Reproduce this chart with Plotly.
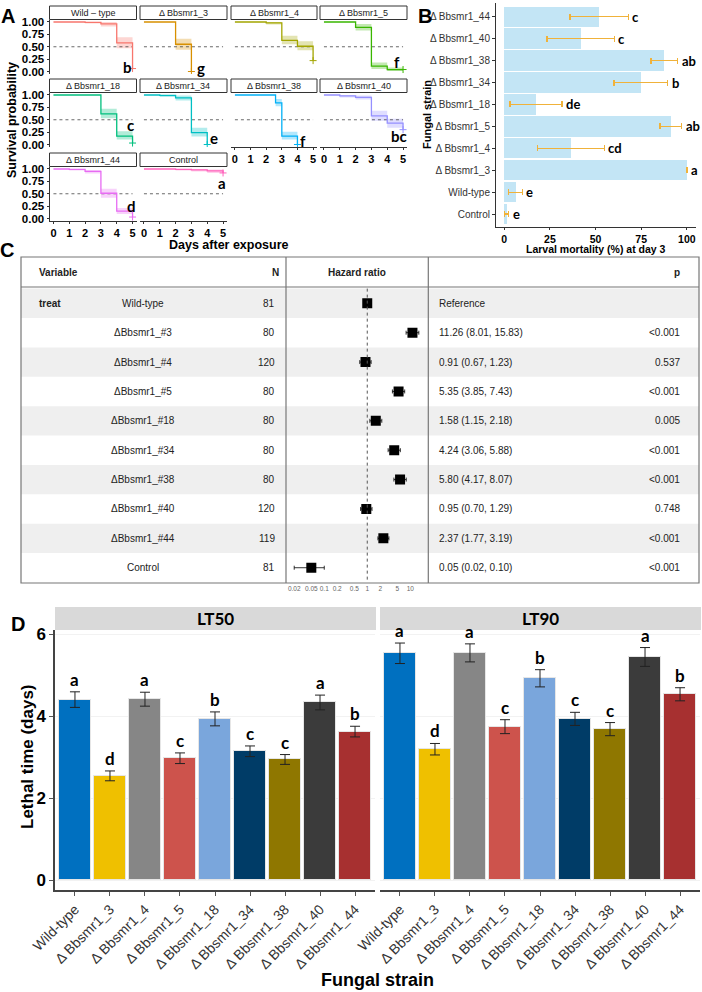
import plotly.graph_objects as go

W, H = 702, 992
SANS = "Liberation Sans, Arial, sans-serif"
CALI = "Lato, Carlito, sans-serif"

# ---- Panel A: Kaplan-Meier survival per strain (step days, survival, CI band)
km_names = ["Wild – type", "Δ Bbsmr1_3", "Δ Bbsmr1_4", "Δ Bbsmr1_5", "Δ Bbsmr1_18",
            "Δ Bbsmr1_34", "Δ Bbsmr1_38", "Δ Bbsmr1_40", "Δ Bbsmr1_44", "Control"]
km_colors = ["#F8766D", "#D89000", "#A3A500", "#39B600", "#00BF7D",
             "#00BFC4", "#00B0F6", "#9590FF", "#E76BF3", "#FF62BC"]
km_days = [
    [0, 2, 3, 4, 5],
    [0, 2, 3],
    [0, 2, 3, 4, 5],
    [0, 2, 3, 4, 5],
    [0, 3, 4, 5],
    [0, 1, 2, 3, 4],
    [0, 2.6, 3, 4],
    [0, 1, 2, 3, 4, 5],
    [0, 1, 2, 3, 4, 5],
    [0, 2, 3, 4, 5],
]
km_surv = [
    [1, 0.99, 0.96, 0.58, 0.06],
    [1, 0.55, 0.0],
    [1, 0.98, 0.63, 0.51, 0.22],
    [1, 0.89, 0.11, 0.04, 0.04],
    [1, 0.62, 0.17, 0.03],
    [1, 0.99, 0.94, 0.24, 0.0],
    [1, 0.84, 0.17, 0.0],
    [1, 0.98, 0.95, 0.58, 0.43, 0.30],
    [1, 0.99, 0.95, 0.51, 0.15, 0.03],
    [1, 0.99, 0.98, 0.96, 0.92],
]
km_lo = [
    [1, 0.97, 0.91, 0.47, 0.02],
    [1, 0.44, 0.0],
    [1, 0.95, 0.55, 0.43, 0.14],
    [1, 0.83, 0.05, 0.01, 0.01],
    [1, 0.53, 0.10, 0.01],
    [1, 0.96, 0.89, 0.16, 0.0],
    [1, 0.77, 0.10, 0.0],
    [1, 0.95, 0.91, 0.48, 0.34, 0.22],
    [1, 0.97, 0.91, 0.42, 0.09, 0.01],
    [1, 0.97, 0.95, 0.92, 0.86],
]
km_hi = [
    [1, 1, 1, 0.69, 0.12],
    [1, 0.66, 0.0],
    [1, 1, 0.72, 0.61, 0.30],
    [1, 0.96, 0.18, 0.08, 0.08],
    [1, 0.72, 0.27, 0.07],
    [1, 1, 0.99, 0.34, 0.0],
    [1, 0.92, 0.26, 0.0],
    [1, 1, 0.99, 0.68, 0.52, 0.39],
    [1, 1, 0.98, 0.60, 0.21, 0.06],
    [1, 1, 1, 0.99, 0.97],
]
km_letters = ["b", "g", "b", "f", "c", "e", "f", "bc", "d", "a"]
km_letter_x = [4.7, 3.6, 5.3, 4.6, 4.9, 4.45, 4.35, 4.75, 4.95, 4.95]
km_letter_y = [0.10, 0.07, 0.18, 0.20, 0.39, 0.14, 0.07, 0.18, 0.25, 0.72]
km_day_ticks = [0, 1, 2, 3, 4, 5]
km_surv_ticks = [0, 0.25, 0.5, 0.75, 1.0]

# ---- Panel B: larval mortality at day 3 (bottom to top)
b_names = ["Control", "Wild-type", "Δ Bbsmr1_3", "Δ Bbsmr1_4", "Δ Bbsmr1_5",
           "Δ Bbsmr1_18", "Δ Bbsmr1_34", "Δ Bbsmr1_38", "Δ Bbsmr1_40", "Δ Bbsmr1_44"]
b_mort = [1.3, 6.2, 100, 36.5, 91.2, 17.4, 74.8, 87.6, 41.8, 52.0]
b_err = [1.1, 3.8, 0, 18.3, 5.9, 14.1, 14.6, 7.3, 18.5, 16.0]
b_letters = ["e", "e", "a", "cd", "ab", "de", "b", "ab", "c", "c"]
b_ticks = [0, 25, 50, 75, 100]

# ---- Panel C: Cox hazard ratios
hr_names = ["Wild-type", "ΔBbsmr1_#3", "ΔBbsmr1_#4", "ΔBbsmr1_#5", "ΔBbsmr1_#18",
            "ΔBbsmr1_#34", "ΔBbsmr1_#38", "ΔBbsmr1_#40", "ΔBbsmr1_#44", "Control"]
hr_n = [81, 80, 120, 80, 80, 80, 80, 120, 119, 81]
hr = [1.0, 11.26, 0.91, 5.35, 1.58, 4.24, 5.80, 0.95, 2.37, 0.05]
hr_lo = [1.0, 8.01, 0.67, 3.85, 1.15, 3.06, 4.17, 0.70, 1.77, 0.02]
hr_hi = [1.0, 15.83, 1.23, 7.43, 2.18, 5.88, 8.07, 1.29, 3.19, 0.10]
hr_p = ["", "<0.001", "0.537", "<0.001", "0.005", "<0.001", "<0.001", "0.748", "<0.001", "<0.001"]
hr_ticks = [0.02, 0.05, 0.1, 0.2, 0.5, 1, 2, 5, 10]

# ---- Panel D: lethal times
d_names = ["Wild-type", "Δ Bbsmr1_3", "Δ Bbsmr1_4", "Δ Bbsmr1_5", "Δ Bbsmr1_18",
           "Δ Bbsmr1_34", "Δ Bbsmr1_38", "Δ Bbsmr1_40", "Δ Bbsmr1_44"]
d_colors = ["#0070C0", "#EFC000", "#868686", "#CD534C", "#7AA6DC",
            "#003C67", "#8F7700", "#3B3B3B", "#A73030"]
lt50 = [4.40, 2.54, 4.41, 2.97, 3.93, 3.14, 2.94, 4.33, 3.62]
lt50_err = [0.19, 0.12, 0.17, 0.13, 0.17, 0.13, 0.12, 0.18, 0.13]
lt50_letters = ["a", "d", "a", "c", "b", "c", "c", "a", "b"]
lt90 = [5.53, 3.19, 5.54, 3.74, 4.92, 3.93, 3.68, 5.44, 4.53]
lt90_err = [0.25, 0.14, 0.22, 0.17, 0.21, 0.16, 0.16, 0.23, 0.16]
lt90_letters = ["a", "d", "a", "c", "b", "c", "c", "a", "b"]
d_ticks = [0, 2, 4, 6]


def px_x(v):
    return v / W


def px_y(v):
    return 1 - v / H


def axn(n):
    return "" if n == 1 else str(n)


def rgba(hex_color, alpha):
    h = hex_color.lstrip("#")
    r, g, b = (int(h[k:k + 2], 16) for k in (0, 2, 4))
    return f"rgba({r},{g},{b},{alpha})"


fig = go.Figure()
layout = {}
shapes = []
annotations = []


def label(x, y, s, size=10, bold=False, color="#000", family=SANS, xanchor="center",
          yanchor="middle", angle=0, xref="paper", yref="paper", **kw):
    if bold:
        s = f"<b>{s}</b>"
    annotations.append(dict(x=x, y=y, xref=xref, yref=yref, text=s, showarrow=False,
                            font=dict(family=family, size=size, color=color),
                            xanchor=xanchor, yanchor=yanchor, textangle=angle, **kw))


def page_label(x, y, s, **kw):
    label(px_x(x), px_y(y), s, **kw)


def line_px(x0, y0, x1, y1, color="#777", width=1.2, dash="solid"):
    shapes.append(dict(type="line", xref="paper", yref="paper", x0=px_x(x0), x1=px_x(x1),
                       y0=px_y(y0), y1=px_y(y1), line=dict(color=color, width=width, dash=dash)))


# ================= Panel A =================
a_cols = [(49.5, 136.5), (140, 227), (231, 317), (320, 407)]
a_rows = [(19.5, 74), (92.5, 147), (166.5, 221)]
a_strips = [(6, 19.5), (79, 92.5), (153, 166.5)]

for i, name in enumerate(km_names):
    n = i + 1
    r, c = divmod(i, 4)
    xa, ya = "x" + axn(n), "y" + axn(n)
    col = km_colors[i]
    fig.add_trace(go.Scatter(x=km_days[i], y=km_lo[i], xaxis=xa, yaxis=ya, mode="lines",
                             line=dict(width=0, shape="hv"), hoverinfo="skip"))
    fig.add_trace(go.Scatter(x=km_days[i], y=km_hi[i], xaxis=xa, yaxis=ya, mode="lines",
                             line=dict(width=0, shape="hv"), fill="tonexty",
                             fillcolor=rgba(col, 0.3), hoverinfo="skip"))
    fig.add_trace(go.Scatter(x=[0, 5], y=[0.5, 0.5], xaxis=xa, yaxis=ya, mode="lines",
                             line=dict(color="#444", width=0.8, dash="dot")))
    fig.add_trace(go.Scatter(x=km_days[i], y=km_surv[i], xaxis=xa, yaxis=ya, mode="lines",
                             line=dict(color=col, width=1.3, shape="hv")))
    fig.add_trace(go.Scatter(x=[km_days[i][-1]], y=[km_surv[i][-1]], xaxis=xa, yaxis=ya,
                             mode="markers",
                             marker=dict(symbol="cross-thin", size=5, line=dict(color=col, width=1))))

    bottom = i in (6, 7, 8, 9)
    left = c == 0
    x0, x1 = a_cols[c]
    y0, y1 = a_rows[r]
    layout["xaxis" + axn(n)] = dict(
        domain=[px_x(x0), px_x(x1)], anchor=ya, range=[-0.25, 5.25], tickvals=km_day_ticks,
        showticklabels=bottom, ticks="outside" if bottom else "", ticklen=2, tickcolor="#333",
        showline=bottom, linecolor="#333", linewidth=1, showgrid=False, zeroline=False,
        tickfont=dict(family=SANS, size=11, color="#000", weight="bold"))
    layout["yaxis" + axn(n)] = dict(
        domain=[px_y(y1), px_y(y0)], anchor=xa, range=[-0.05, 1.05], tickvals=km_surv_ticks,
        tickformat=".2f", showticklabels=left, ticks="outside" if left else "", ticklen=2,
        tickcolor="#333", showline=left, linecolor="#333", linewidth=1, showgrid=False,
        zeroline=False, tickfont=dict(family=SANS, size=11.5, color="#000", weight="bold"))

    s0, s1 = a_strips[r]
    shapes.append(dict(type="rect", xref="paper", yref="paper", x0=px_x(x0), x1=px_x(x1),
                       y0=px_y(s1), y1=px_y(s0), line=dict(color="#333", width=1),
                       fillcolor="white"))
    page_label((x0 + x1) / 2, (s0 + s1) / 2, name, size=9, color="#222")
    label(km_letter_x[i], km_letter_y[i], km_letters[i], size=15, bold=True, family=CALI,
          xref=xa, yref=ya)

page_label(8, 16, "A", size=20, bold=True)
page_label(229, 245, "Days after exposure", size=12.5, bold=True)
page_label(12, 120, "Survival probability", size=12.5, bold=True, angle=-90)

# ================= Panel B =================
fig.add_trace(go.Bar(
    x=b_mort, y=list(range(len(b_names))), orientation="h", width=0.92, xaxis="x11",
    yaxis="y11", marker=dict(color="#C3E5F5", line=dict(width=0)),
    error_x=dict(type="data", array=b_err, color="#F0B23A", thickness=1.6, width=3)))
for i, let in enumerate(b_letters):
    label(b_mort[i] + b_err[i], i, let, size=13, bold=True, family=CALI, xanchor="left",
          xshift=2, xref="x11", yref="y11")

layout["xaxis11"] = dict(domain=[px_x(496), px_x(696)], anchor="y11", range=[-4.5, 105],
                         tickvals=b_ticks, ticks="outside", ticklen=2, tickcolor="#333",
                         showline=True, linecolor="#333", linewidth=1, showgrid=False,
                         zeroline=False,
                         tickfont=dict(family=SANS, size=10.5, color="#000", weight="bold"))
layout["yaxis11"] = dict(domain=[px_y(227), px_y(3)], anchor="x11", range=[-0.58, 9.62],
                         tickvals=list(range(len(b_names))), ticktext=b_names, ticks="outside",
                         ticklen=3, tickcolor="#333", showline=True, linecolor="#333",
                         linewidth=1, showgrid=False, zeroline=False,
                         tickfont=dict(family=SANS, size=10, color="#333"))
page_label(425, 16, "B", size=20, bold=True)
page_label(596, 249, "Larval mortality (%) at day 3", size=10.5, bold=True)
page_label(427, 115, "Fungal strain", size=11, bold=True, angle=-90)

# ================= Panel C =================
rows = list(range(len(hr_names)))
for i in rows:
    if i % 2 == 0:
        shapes.append(dict(type="rect", xref="paper", yref="y12", x0=px_x(21), x1=px_x(699),
                           y0=i - 0.5, y1=i + 0.5, line=dict(width=0), fillcolor="#EFEFEF",
                           layer="below"))
shapes.append(dict(type="line", xref="x12", yref="y12", x0=1, x1=1, y0=-0.5, y1=9.5,
                   line=dict(color="#555", width=1, dash="dot")))
fig.add_trace(go.Scatter(
    x=hr, y=rows, xaxis="x12", yaxis="y12", mode="markers",
    marker=dict(symbol="square", size=10, color="black"),
    error_x=dict(type="data", symmetric=False,
                 array=[h - v for v, h in zip(hr, hr_hi)],
                 arrayminus=[v - lo for v, lo in zip(hr, hr_lo)],
                 color="black", thickness=0.8, width=2)))
layout["xaxis12"] = dict(domain=[px_x(286), px_x(428.3)], anchor="y12", type="log",
                         range=[-1.89, 1.42], tickvals=hr_ticks, tickangle=0,
                         ticktext=[str(t) for t in hr_ticks], ticks="", showline=False,
                         showgrid=False, zeroline=False,
                         tickfont=dict(family=SANS, size=6.5, color="#666"))
layout["yaxis12"] = dict(domain=[px_y(583), px_y(287)], anchor="x12", range=[9.52, -0.555],
                         showticklabels=False, showline=False, showgrid=False, zeroline=False)

for i in rows:
    label(px_x(143), i, hr_names[i], size=10, color="#222", xref="paper", yref="y12")
    label(px_x(277.3), i, str(hr_n[i]), size=10, color="#222", xanchor="right",
          xref="paper", yref="y12")
    stat = "Reference" if i == 0 else f"{hr[i]:.2f} ({hr_lo[i]:.2f}, {hr_hi[i]:.2f})"
    label(px_x(436.7), i, stat, size=10, color="#222", xanchor="left", xref="paper", yref="y12")
    label(px_x(681.7), i, hr_p[i], size=10, color="#222", xanchor="right", xref="paper",
          yref="y12")
label(px_x(36.7), 0, "treat", size=10, bold=True, color="#222", xanchor="left",
      xref="paper", yref="y12")

page_label(36.7, 273, "Variable", size=10, bold=True, color="#222", xanchor="left")
page_label(275, 273, "N", size=10, bold=True, color="#222")
page_label(357, 273, "Hazard ratio", size=10, bold=True, color="#222")
page_label(677, 273, "p", size=10, bold=True, color="#222")

shapes.append(dict(type="rect", xref="paper", yref="paper", x0=px_x(21), x1=px_x(699),
                   y0=px_y(583), y1=px_y(257), line=dict(color="#777", width=1.2)))
line_px(21, 287, 699, 287)
line_px(286, 257, 286, 583)
line_px(428.3, 257, 428.3, 583)
page_label(7, 250, "C", size=20, bold=True)

# ================= Panel D =================
panels = [(13, lt50, lt50_err, lt50_letters, (55, 375), "LT50"),
          (14, lt90, lt90_err, lt90_letters, (380, 700), "LT90")]
for n, vals, errs, lets, (x0, x1), title in panels:
    xa, ya = f"x{n}", f"y{n}"
    fig.add_trace(go.Bar(
        x=list(range(len(d_names))), y=vals, xaxis=xa, yaxis=ya, width=0.9,
        marker=dict(color=d_colors, line=dict(color="#E6E6E6", width=1)),
        error_y=dict(type="data", array=errs, color="#222", thickness=1, width=5)))
    for i, let in enumerate(lets):
        label(i, vals[i] + errs[i], let, size=17, bold=True, family=CALI, yanchor="bottom",
              yshift=0, xref=xa, yref=ya)
    layout[f"xaxis{n}"] = dict(domain=[px_x(x0), px_x(x1)], anchor=ya, range=[-0.57, 8.57],
                               tickvals=list(range(len(d_names))), ticktext=d_names,
                               tickangle=-45, ticks="outside", ticklen=4, tickcolor="#555",
                               showline=True, linecolor="#444", linewidth=1.5, showgrid=False,
                               zeroline=False, tickfont=dict(family=SANS, size=14, color="#333"))
    layout[f"yaxis{n}"] = dict(domain=[px_y(890), px_y(630)], anchor=xa, range=[-0.244, 6.098],
                               tickvals=d_ticks, showticklabels=n == 13,
                               ticks="outside" if n == 13 else "", ticklen=4, tickcolor="#555",
                               showline=n == 13, linecolor="#444", linewidth=1.5,
                               showgrid=True, gridcolor="#F2F2F2", gridwidth=1, zeroline=False,
                               tickfont=dict(family=SANS, size=17, color="#000", weight="bold"))
    shapes.append(dict(type="rect", xref="paper", yref="paper", x0=px_x(x0), x1=px_x(x1 + 1),
                       y0=px_y(630), y1=px_y(607), line=dict(width=0), fillcolor="#D9D9D9"))
    page_label((x0 + x1) / 2, 618.5, title, size=17, bold=True, family=CALI)

page_label(18, 624, "D", size=20, bold=True)
page_label(27, 757, "Lethal time (days)", size=17, bold=True, angle=-90)
page_label(377, 980, "Fungal strain", size=18, bold=True)

fig.update_layout(
    width=W, height=H, margin=dict(l=0, r=0, t=0, b=0), showlegend=False,
    paper_bgcolor="white", plot_bgcolor="rgba(0,0,0,0)", bargap=0,
    font=dict(family=SANS), shapes=shapes, annotations=annotations, **layout)
# keep the panels where they were placed: no margin pushing from tick labels
fig.update_xaxes(automargin=False)
fig.update_yaxes(automargin=False)

# the page's default body margin would push the fixed-size figure off the window
fig.write_html("out.html", config={"displayModeBar": False},
               post_script="document.body.style.margin='0';"
                           "document.body.style.overflow='hidden';")
